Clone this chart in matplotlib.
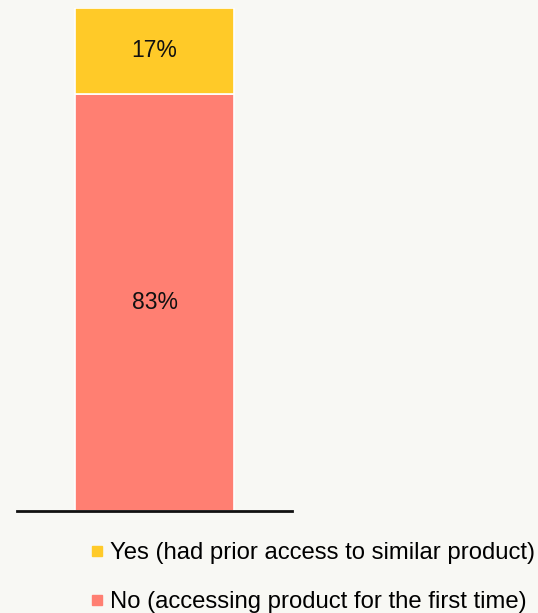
import matplotlib.pyplot as plt
from matplotlib.lines import Line2D

plt.rcParams['font.family'] = ['Liberation Sans', 'DejaVu Sans']

# Survey answers (percent of respondents)
labels = ["No (accessing product for the first time)", "Yes (had prior access to similar product)"]
shares = [83, 17]
colors = ["#FF7F72", "#FFCA28"]

bg = "#F8F8F4"

fig = plt.figure(figsize=(5.38, 6.13), dpi=100, facecolor=bg)
ax = fig.add_axes([17 / 538, 1 - 511 / 613, 275 / 538, 503 / 613])
ax.set_facecolor(bg)

# Stacked single bar
bottom = 0
for share, color in zip(shares, colors):
    ax.bar(0.5, share, width=159 / 275, bottom=bottom, color=color,
           edgecolor="white", linewidth=1.2)
    ax.text(0.5, bottom + share / 2, "{}%".format(share), ha="center", va="center",
            fontsize=16.5, color="#111111")
    bottom += share

ax.set_xlim(0, 1)
ax.set_ylim(0, 100)
ax.set_xticks([])
ax.set_yticks([])
for side in ["top", "right", "left"]:
    ax.spines[side].set_visible(False)
ax.spines["bottom"].set_linewidth(2)
ax.spines["bottom"].set_color("#111111")

# Legend, Yes first
handles = [Line2D([], [], marker="s", linestyle="none", markersize=7.5,
                  markerfacecolor=c, markeredgecolor=c) for c in colors[::-1]]
fig.legend(handles, labels[::-1], loc="upper left", bbox_to_anchor=(90 / 538, 1 - 542 / 613),
           frameon=False, fontsize=17.2, handlelength=0.6, handletextpad=0.25,
           labelspacing=1.15, borderpad=0, borderaxespad=0)

fig.savefig("out.png", dpi=100, facecolor=bg)
